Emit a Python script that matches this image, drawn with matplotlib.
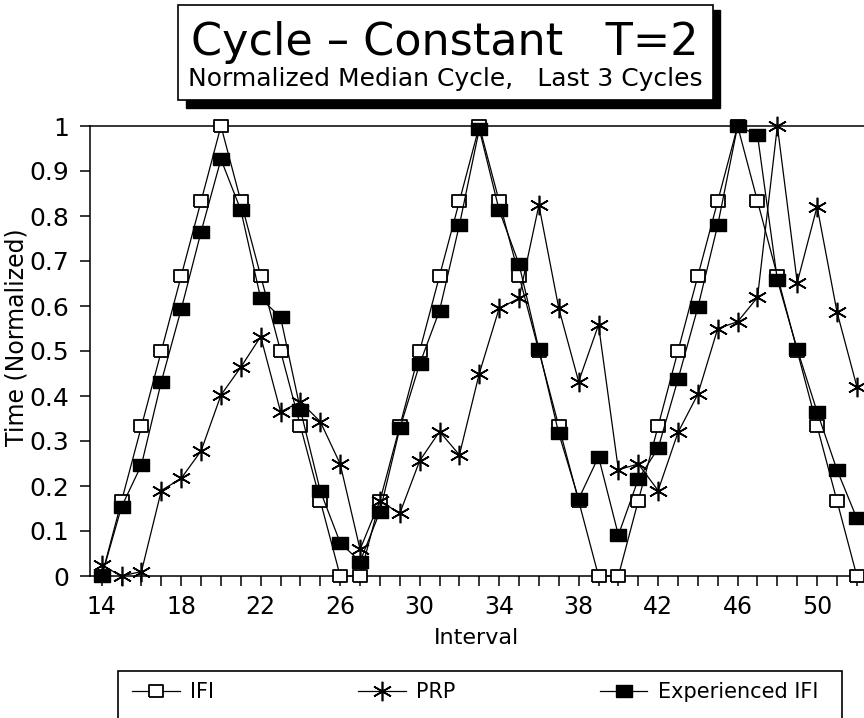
# Cycle - Constant T=2 : normalized median cycle, last 3 cycles
import numpy as np
import matplotlib
matplotlib.use("Agg")
import matplotlib.pyplot as plt
from matplotlib.patches import Rectangle

plt.rcParams['font.family'] = ['DejaVu Sans']

# intervals 14..52
interval = list(range(14, 53))

ifi = [0, 0.167, 0.333, 0.5, 0.667, 0.833, 1.0, 0.833, 0.667, 0.5, 0.333, 0.167, 0,
       0, 0.167, 0.333, 0.5, 0.667, 0.833, 1.0, 0.833, 0.667, 0.5, 0.333, 0.167, 0,
       0, 0.167, 0.333, 0.5, 0.667, 0.833, 1.0, 0.833, 0.667, 0.5, 0.333, 0.167, 0]

prp = [0.024, 0.0, 0.01, 0.19, 0.217, 0.278, 0.402, 0.464, 0.532, 0.365, 0.387, 0.343, 0.249,
       0.059, 0.167, 0.139, 0.256, 0.321, 0.269, 0.45, 0.595, 0.617, 0.824, 0.595, 0.432, 0.558,
       0.236, 0.249, 0.19, 0.319, 0.404, 0.55, 0.565, 0.619, 1.0, 0.652, 0.821, 0.587, 0.421]

exp_ifi = [0.0, 0.154, 0.247, 0.432, 0.593, 0.765, 0.926, 0.813, 0.617, 0.575, 0.369, 0.189, 0.074,
           0.032, 0.143, 0.328, 0.471, 0.59, 0.78, 0.993, 0.813, 0.693, 0.504, 0.317, 0.171, 0.265,
           0.091, 0.215, 0.284, 0.437, 0.597, 0.78, 1.0, 0.98, 0.658, 0.504, 0.365, 0.236, 0.128]

W, H = 864, 718
fig = plt.figure(figsize=(W / 100, H / 100), dpi=100)

# axes box in pixels: left spine x=90, y=0 at 576, y=1 at 126, runs off right edge
ax = fig.add_axes([90 / W, (H - 576) / H, (W - 90) / W, (576 - 126) / H])

rect = [(-1, -0.8), (1, -0.8), (1, 0.8), (-1, 0.8), (-1, -0.8)]
ax.plot(interval, ifi, color='k', lw=0.9, marker=rect, ms=10.5, mfc='white',
        mec='k', mew=1.3, clip_on=False, zorder=3, label='IFI')
ax.plot(interval, prp, color='k', lw=0.9, marker=(6, 2, 0), ms=14, mec='k',
        mew=1.2, clip_on=False, zorder=5, label='PRP')
ax.plot(interval, exp_ifi, color='k', lw=0.9, marker=rect, ms=11, mfc='k',
        mec='k', mew=1.0, clip_on=False, zorder=4, label='Experienced IFI')

ax.set_xlim(13.41, 52.36)
ax.set_ylim(0, 1)
ax.set_xticks(range(14, 51, 4))
ax.set_xticks(range(14, 53), minor=True)
yt = np.round(np.arange(0, 1.01, 0.1), 1)
ax.set_yticks(yt)
ax.set_yticklabels(['0'] + ['%.1f' % v for v in yt[1:-1]] + ['1'])
ax.tick_params(which='both', direction='out', length=7, width=1.1, labelsize=17)
ax.tick_params(axis='y', pad=8, labelsize=18)
ax.tick_params(axis='x', pad=7)
ax.spines['right'].set_visible(False)
for s in ['left', 'bottom', 'top']:
    ax.spines[s].set_linewidth(1.1)

ax.set_xlabel('Interval', fontsize=16, labelpad=6)
ax.set_ylabel('Time (Normalized)', fontsize=17)
ax.yaxis.set_label_coords(-0.08, 0.53)

# title box with drop shadow
fig.patches.append(Rectangle((186 / W, 1 - 108 / H), (720 - 186) / W, (108 - 10) / H,
                             transform=fig.transFigure, facecolor='k', edgecolor='k'))
fig.patches.append(Rectangle((178 / W, 1 - 100 / H), (713 - 178) / W, (100 - 5) / H,
                             transform=fig.transFigure, facecolor='white', edgecolor='k', lw=1.2))
fig.text(445 / W, 1 - 55 / H, 'Cycle \u2013 Constant   T=2', fontsize=32,
         ha='center', va='baseline')
fig.text(445 / W, 1 - 86 / H, 'Normalized Median Cycle,   Last 3 Cycles', fontsize=18,
         ha='center', va='baseline')

# legend box, bottom edge falls off the figure
fig.patches.append(Rectangle((118 / W, 1 - 780 / H), (842 - 118) / W, (780 - 671) / H,
                             transform=fig.transFigure, facecolor='none', edgecolor='k', lw=1.2))
fig.legend(loc='center left', bbox_to_anchor=(132 / W, 1 - 692 / H), ncol=3,
           frameon=False, fontsize=15, borderpad=0, borderaxespad=0,
           handlelength=2.3, handletextpad=0.5, columnspacing=6.9)

plt.savefig('out.png', dpi=100)
